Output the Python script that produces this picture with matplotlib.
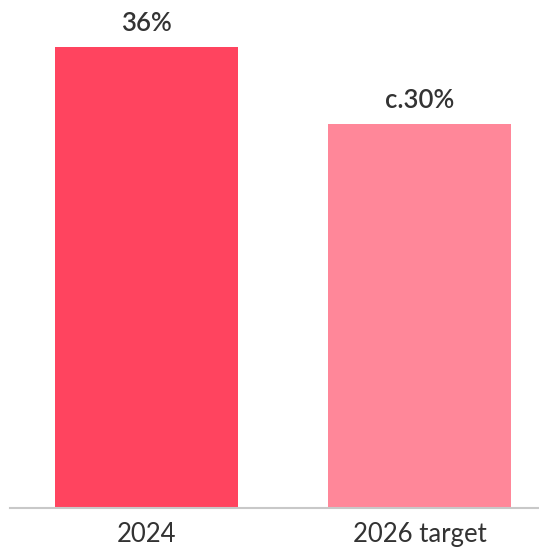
import matplotlib
matplotlib.use("Agg")
import matplotlib.pyplot as plt

categories = ["2024", "2026 target"]
values = [36, 30]
value_labels = ["36%", "c.30%"]
bar_colors = ["#FF445F", "#FF8799"]

plt.rcParams['font.family'] = ['Lato', 'DejaVu Sans']

fig = plt.figure(figsize=(5.39, 5.47), dpi=100)
ax = fig.add_axes([10 / 539, 39 / 547, 529 / 539, 508 / 547])

x = range(len(categories))
bars = ax.bar(x, values, width=0.67, color=bar_colors, zorder=2)

for bar, label in zip(bars, value_labels):
    ax.annotate(label, (bar.get_x() + bar.get_width() / 2, bar.get_height()),
                xytext=(0, 8), textcoords="offset points",
                ha="center", va="bottom", fontsize=18.5, color="#333333",
                fontweight="semibold")

ax.set_xlim(-0.5, 1.438)
ax.set_ylim(0, 39.67)
ax.set_xticks(list(x))
ax.set_xticklabels(categories, fontsize=18.5, color="#333333")
ax.tick_params(axis="x", length=0, pad=10)
ax.set_yticks([])

for side in ["top", "right", "left"]:
    ax.spines[side].set_visible(False)
ax.spines["bottom"].set_color("#C8C8C8")
ax.spines["bottom"].set_linewidth(1.5)

fig.savefig("out.png", dpi=100)
